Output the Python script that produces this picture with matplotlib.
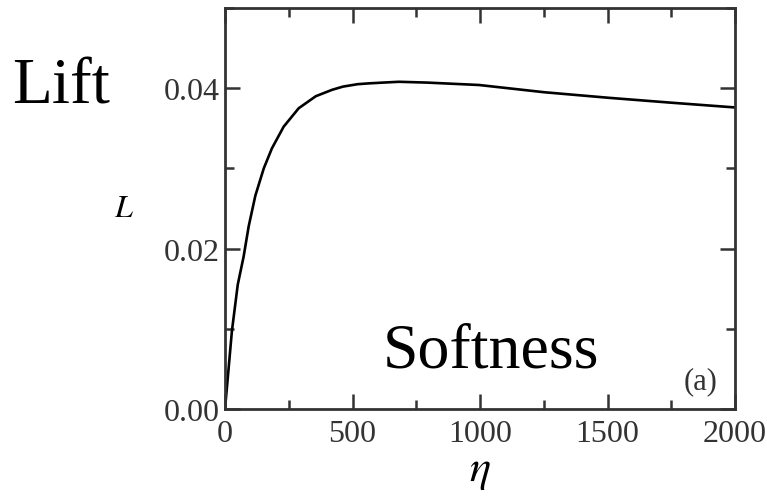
import matplotlib.pyplot as plt
from matplotlib.ticker import MultipleLocator

# values
eta = [0, 14, 27, 50, 73, 93, 119, 152, 184, 230, 289, 356, 420, 463, 520,
       563, 620, 682, 792, 996, 1251, 1506, 1747, 2000]
lift = [0.0, 0.0050, 0.0097, 0.0155, 0.0190, 0.0228, 0.0266, 0.0300, 0.0325,
        0.0352, 0.0375, 0.0390, 0.0398, 0.0402, 0.0405, 0.0406, 0.0407, 0.0408,
        0.0407, 0.0404, 0.0395, 0.0388, 0.0382, 0.0376]

plt.rcParams['font.family'] = ['Liberation Serif', 'DejaVu Serif']
plt.rcParams['mathtext.fontset'] = 'stix'

fig = plt.figure(figsize=(7.67, 5.02), dpi=100)
ax = fig.add_axes([225/767, 1 - 410/502, 510/767, 401/502])

ax.plot(eta, lift, color='black', lw=1.9)
ax.set_xlim(0, 2000)
ax.set_ylim(0, 0.05)

ax.xaxis.set_major_locator(MultipleLocator(500))
ax.xaxis.set_minor_locator(MultipleLocator(250))
ax.yaxis.set_minor_locator(MultipleLocator(0.01))
ax.set_yticks([0, 0.02, 0.04])
ax.set_yticklabels(['0.00', '0.02', '0.04'])

grey = '#333333'
for s in ax.spines.values():
    s.set_linewidth(2)
    s.set_color(grey)
ax.tick_params(which='both', direction='in', top=True, right=True, color=grey, width=1.8,
               labelsize=23, labelcolor=grey)
ax.tick_params(which='major', length=11)
ax.tick_params(which='minor', length=6.5)
ax.tick_params(axis='x', pad=7)
ax.tick_params(axis='y', pad=4)

ax.set_xlabel(r'$\eta$', fontsize=32, labelpad=2)
ax.set_ylabel(r'$L$', fontsize=23, rotation=0, labelpad=28, va='center')

ax.text(0.965, 0.035, '(a)', transform=ax.transAxes, ha='right', va='bottom', fontsize=22, color=grey)
ax.text(383/767, 1 - 368/502, 'Softness', transform=fig.transFigure, ha='left', va='baseline', fontsize=46)
fig.text(12/767, 1 - 103/502, 'Lift', ha='left', va='baseline', fontsize=47)

fig.savefig('out.png', dpi=100)
